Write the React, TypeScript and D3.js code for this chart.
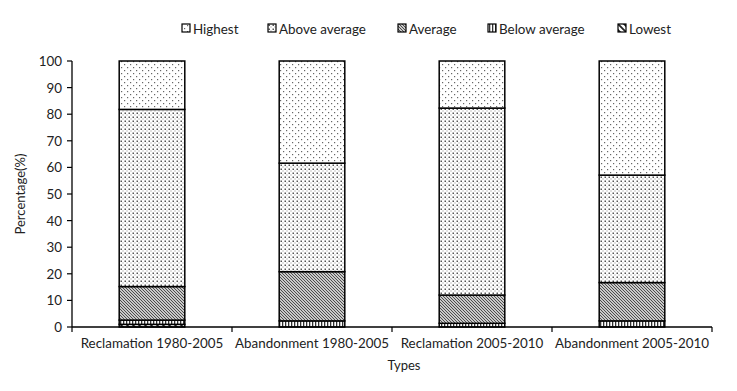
import React from 'react';
import * as d3 from 'd3';

// data (stack order bottom -> top)
const categories = [
  'Reclamation 1980-2005',
  'Abandonment 1980-2005',
  'Reclamation 2005-2010',
  'Abandonment 2005-2010'
];
const lowest = [1.0, 0, 0, 0];
const belowAverage = [1.6, 2.3, 1.4, 2.3];
const average = [12.6, 18.5, 10.6, 14.4];
const aboveAverage = [66.6, 40.8, 70.3, 40.4];
const highest = [18.2, 38.4, 17.7, 42.9];
const yTicks = [0, 10, 20, 30, 40, 50, 60, 70, 80, 90, 100];

const seriesKeys = ['Lowest', 'Below average', 'Average', 'Above average', 'Highest'];
const legendOrder = ['Highest', 'Above average', 'Average', 'Below average', 'Lowest'];
const legendX = [182, 268, 398, 488, 618];

const patternId: Record<string, string> = {
  'Highest': 'p-highest',
  'Above average': 'p-above',
  'Average': 'p-average',
  'Below average': 'p-below',
  'Lowest': 'p-lowest'
};

const FONT = 'Lato, "Open Sans", sans-serif';
const FS = 13.4;

export default function App() {
  const width = 737;
  const height = 391;
  const left = 72;
  const right = 712;
  const top = 61;
  const bottom = 327;

  const rows = categories.map((c, i) => ({
    cat: c,
    'Lowest': lowest[i],
    'Below average': belowAverage[i],
    'Average': average[i],
    'Above average': aboveAverage[i],
    'Highest': highest[i]
  }));
  const stacked = d3.stack<any>().keys(seriesKeys)(rows);

  const x = d3.scaleBand().domain(categories).range([left, right]).padding(0);
  const y = d3.scaleLinear().domain([0, 100]).range([bottom, top]);
  const barW = x.bandwidth() * 0.41;

  const bounds = [...categories.map(c => x(c)!), right];

  return (
    <div style={{ position: 'absolute', left: 0, top: 0 }}>
      <svg width={width} height={height} style={{ display: 'block', background: '#fff' }}>
        <defs>
          <pattern id="p-highest" width="6" height="6" patternUnits="userSpaceOnUse">
            <rect width="6" height="6" fill="#fff" />
            <rect x="1" y="1" width="1.2" height="1.2" fill="#666" />
            <rect x="4" y="4" width="1.2" height="1.2" fill="#666" />
          </pattern>
          <pattern id="p-above" width="4" height="4" patternUnits="userSpaceOnUse">
            <rect width="4" height="4" fill="#fff" />
            <rect x="0.5" y="0.5" width="1.5" height="1.5" fill="#555" />
            <rect x="2.5" y="2.5" width="1" height="1" fill="#888" />
          </pattern>
          <pattern id="p-average" width="3" height="3" patternUnits="userSpaceOnUse">
            <rect width="3" height="3" fill="#fff" />
            <path d="M-1,-1 L4,4 M-1,2 L1,4 M2,-1 L4,1" stroke="#444" strokeWidth="1.1" />
          </pattern>
          <pattern id="p-below" width="3" height="4" patternUnits="userSpaceOnUse">
            <rect width="3" height="4" fill="#fff" />
            <rect x="0" y="0" width="1.3" height="4" fill="#333" />
          </pattern>
          <pattern id="p-lowest" width="6" height="6" patternUnits="userSpaceOnUse">
            <rect width="6" height="6" fill="#fff" />
            <path d="M-1,-1 L7,7 M-1,5 L1,7 M5,-1 L7,1" stroke="#222" strokeWidth="1.8" />
          </pattern>
        </defs>

        {/* legend */}
        {legendOrder.map((k, i) => (
          <g key={k}>
            <rect x={legendX[i]} y={24} width={8} height={8} fill={`url(#${patternId[k]})`} stroke="#000" strokeWidth={1.2} />
            <text x={legendX[i] + 11} y={33.5} fontFamily={FONT} fontSize={FS} fill="#222">{k}</text>
          </g>
        ))}

        {/* bars */}
        {stacked.map(s => (
          <g key={s.key}>
            {s.map((d, i) => {
              const h = y(d[0]) - y(d[1]);
              if (h <= 0) return null;
              return (
                <rect
                  key={i}
                  x={x(categories[i])! + (x.bandwidth() - barW) / 2}
                  y={y(d[1])}
                  width={barW}
                  height={h}
                  fill={`url(#${patternId[s.key]})`}
                  stroke="#000"
                  strokeWidth={1.5}
                />
              );
            })}
          </g>
        ))}

        {/* y axis */}
        <line x1={left} x2={left} y1={top} y2={bottom} stroke="#000" strokeWidth={1.3} />
        {yTicks.map(t => (
          <g key={t}>
            <line x1={left - 5} x2={left} y1={y(t)} y2={y(t)} stroke="#000" strokeWidth={1.2} />
            <text x={left - 10} y={y(t) + 5} textAnchor="end" fontFamily={FONT} fontSize={FS} fill="#222">{t}</text>
          </g>
        ))}
        <text
          transform={`translate(25,${(top + bottom) / 2}) rotate(-90)`}
          textAnchor="middle"
          fontFamily={FONT}
          fontSize={13}
          fill="#222"
        >Percentage(%)</text>

        {/* x axis */}
        <line x1={left} x2={right} y1={bottom} y2={bottom} stroke="#000" strokeWidth={1.3} />
        {bounds.map((b, i) => (
          <line key={i} x1={b} x2={b} y1={bottom} y2={bottom + 5} stroke="#000" strokeWidth={1.2} />
        ))}
        {categories.map(c => (
          <text key={c} x={x(c)! + x.bandwidth() / 2} y={348} textAnchor="middle" fontFamily={FONT} fontSize={FS} fill="#222">{c}</text>
        ))}
        <text x={(left + right) / 2 + 12} y={370} textAnchor="middle" fontFamily={FONT} fontSize={13} fill="#222">Types</text>
      </svg>
    </div>
  );
}
